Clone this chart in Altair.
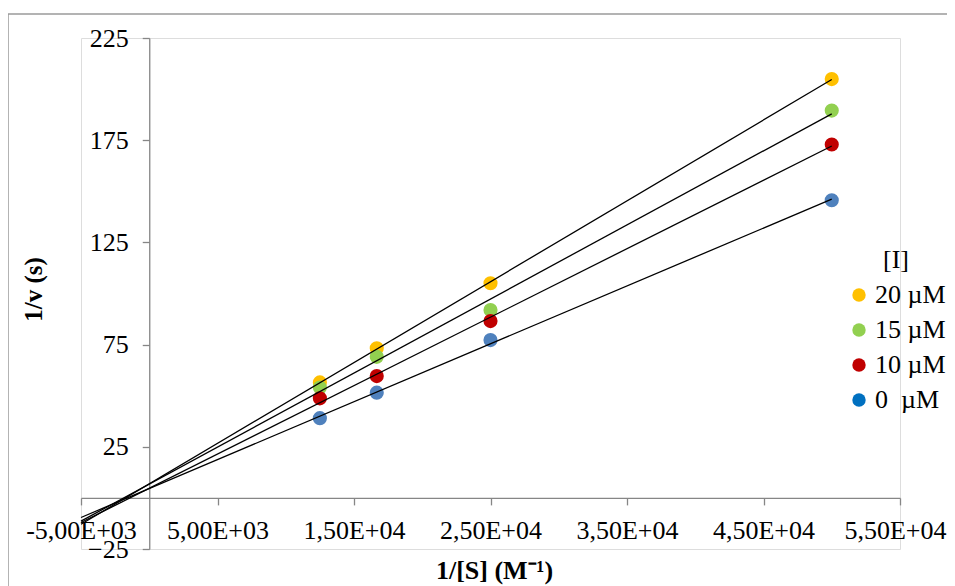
import altair as alt
import pandas as pd

# ---- data ----
x_inv_s = [12500, 16667, 25000, 50000]
series_names = ["20 µM", "15 µM", "10 µM", "\u00a00\u00a0\u00a0µM"]
y_20 = [56.5, 73.2, 105.0, 204.9]
y_15 = [54.0, 69.0, 91.9, 189.5]
y_10 = [48.7, 59.6, 86.5, 172.9]
y_0 = [39.0, 51.5, 77.2, 145.6]

point_colors = ["#FFC000", "#92D050", "#C00000", "#4F81BD"]
legend_colors = ["#FFC000", "#92D050", "#C00000", "#0070C0"]

x_ticks = [-5000, 5000, 15000, 25000, 35000, 45000, 55000]
x_tick_labels = ["-5,00E+03", "5,00E+03", "1,50E+04", "2,50E+04",
                 "3,50E+04", "4,50E+04", "5,50E+04"]
y_ticks = [-25, 25, 75, 125, 175, 225]

rows = []
for name, ys in zip(series_names, [y_20, y_15, y_10, y_0]):
    for xv, yv in zip(x_inv_s, ys):
        rows.append({"series": name, "x": xv, "y": yv})
df = pd.DataFrame(rows)

# ---- layout ----
W, H = 819, 511
x_dom = [-5000, 55000]
y_dom = [-25, 225]
y_axis_off = -W * (0 - x_dom[0]) / (x_dom[1] - x_dom[0])   # move y axis to x=0
x_axis_off = -H * (0 - y_dom[0]) / (y_dom[1] - y_dom[0])   # move x axis to y=0
x_axis_y = H + x_axis_off

FONT = "Liberation Serif"
AX = "#868686"
FS = 26

label_expr = " : ".join(f"datum.value == {v} ? '{l}'" for v, l in zip(x_ticks, x_tick_labels)) + " : ''"

x_enc = alt.X("x:Q", scale=alt.Scale(domain=x_dom, nice=False, zero=False),
              axis=alt.Axis(values=x_ticks, labelExpr=label_expr, offset=x_axis_off,
                            grid=False, tickSize=7, domainColor=AX, tickColor=AX,
                            domainWidth=1.3, tickWidth=1.3,
                            labelFont=FONT, labelFontSize=FS, labelColor="black",
                            labelOffset={"condition": {"test": f"datum.value == {x_ticks[-1]}",
                                                       "value": -5},
                                         "value": 0},
                            labelPadding=13, labelOverlap=False, labelFlush=False,
                            title="1/[S] (M\u207b\u00b9)", titleFont=FONT, titleFontSize=26,
                            titleFontWeight="bold", titleColor="black",
                            titleX=413, titleY=570 - 38 - x_axis_y,
                            titleAlign="center", titleBaseline="middle"))
y_enc = alt.Y("y:Q", scale=alt.Scale(domain=y_dom, nice=False, zero=False),
              axis=alt.Axis(values=y_ticks, offset=y_axis_off, grid=False, tickSize=7,
                            domainColor=AX, tickColor=AX, domainWidth=1.3, tickWidth=1.3,
                            labelFont=FONT, labelFontSize=FS, labelColor="black",
                            labelPadding=14, labelOverlap=False, labelFlush=False,
                            title="1/v (s)", titleFont=FONT, titleFontSize=25,
                            titleFontWeight="bold", titleColor="black",
                            titleX=(33 - 81) + y_axis_off, titleY=289 - 38, titleAngle=270,
                            titleAlign="center", titleBaseline="middle"))

border = alt.Chart(pd.DataFrame({"a": [0]})).mark_rect(
    fillOpacity=0, stroke="#9a9a9a", strokeWidth=1.5
).encode(x=alt.value(-73), x2=alt.value(1200), y=alt.value(-24), y2=alt.value(1200))

legend_layer = alt.Chart(df).mark_circle(size=60, opacity=1).encode(
    x=x_enc, y=y_enc,
    color=alt.Color("series:N", sort=series_names,
                    scale=alt.Scale(domain=series_names, range=legend_colors),
                    legend=alt.Legend(orient="none", legendX=765, legendY=209,
                                      title="\u00a0\u00a0\u00a0[I]", titleFont=FONT, titleFontSize=FS,
                                      titleFontWeight="normal", titleColor="black",
                                      titleAnchor="middle", titlePadding=9,
                                      labelFont=FONT, labelFontSize=FS, labelColor="black",
                                      labelOffset=3, symbolType="circle", symbolSize=180,
                                      symbolStrokeWidth=0, rowPadding=9))
)

points = alt.Chart(df).mark_circle(size=200, opacity=1).encode(
    x=x_enc, y=y_enc,
    color=alt.Color("series:N", scale=alt.Scale(domain=series_names, range=point_colors),
                    legend=None)
)

lines = alt.Chart(df).transform_regression(
    "x", "y", groupby=["series"], extent=[-5000, 50000]
).mark_line(color="black", strokeWidth=1.3).encode(
    x=x_enc, y=y_enc, detail="series:N"
)

chart = alt.layer(border, legend_layer, points, lines).resolve_scale(
    color="independent"
).properties(
    width=W, height=H,
    autosize=alt.AutoSizeParams(type="none"),
    padding={"left": 73, "top": 30, "right": 47, "bottom": 37},
).configure_view(stroke=None).configure(background="white")

chart.save("out.html", embed_options={"renderer": "svg", "actions": False})
